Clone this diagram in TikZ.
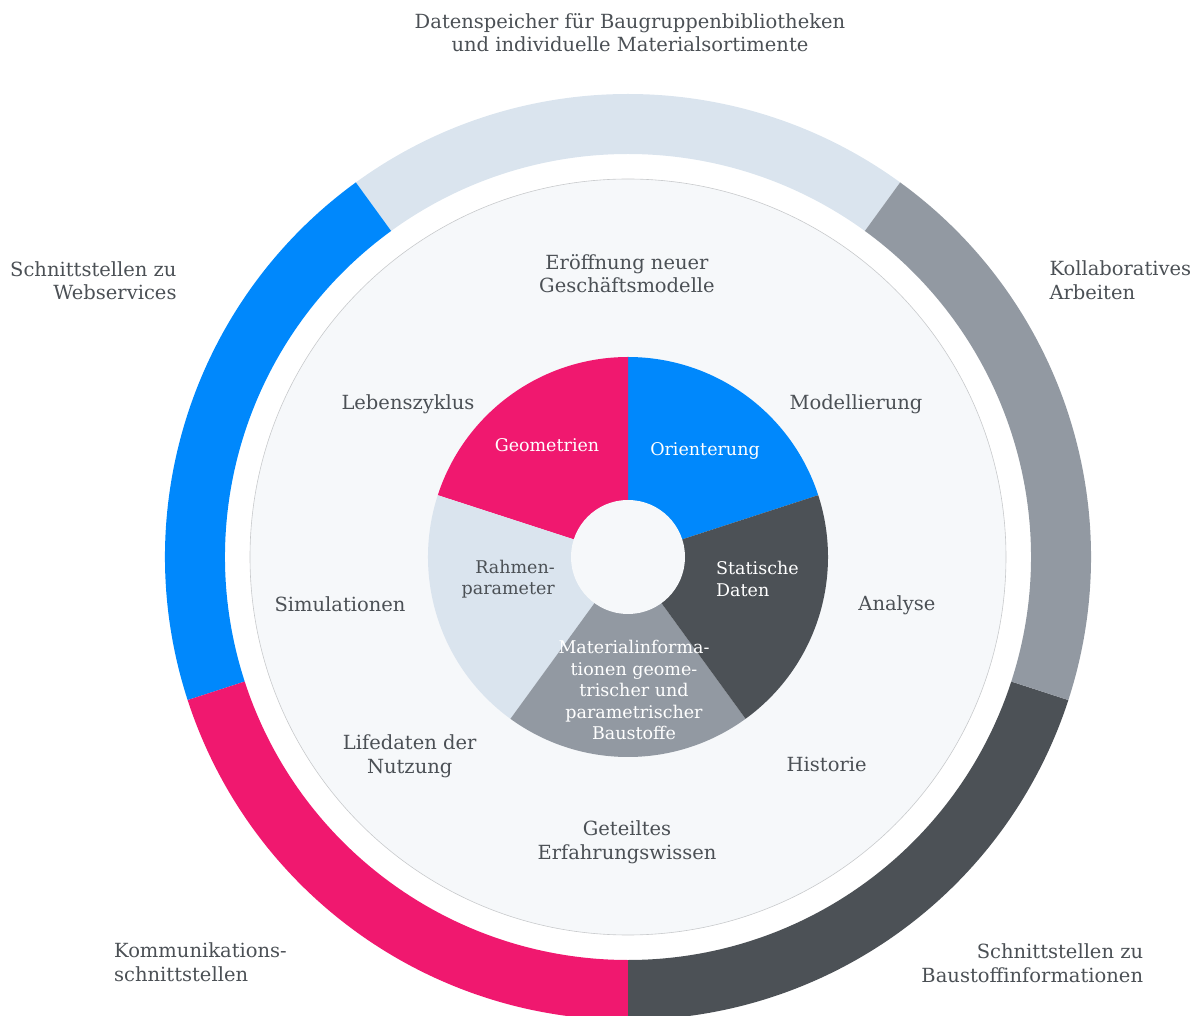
\documentclass[tikz,border=0pt]{standalone}
\usepackage{fontspec}
\setmainfont{DejaVu Serif}
\definecolor{txtgray}{HTML}{4B5055}
\definecolor{ringlight}{HTML}{DAE4EE}
\definecolor{ringgray}{HTML}{9299A2}
\definecolor{ringdark}{HTML}{4C5156}
\definecolor{ringpink}{HTML}{F0186F}
\definecolor{ringblue}{HTML}{0088FC}
\definecolor{faceback}{HTML}{F6F8FA}
\definecolor{faceline}{HTML}{C8CACC}
\tikzset{
  lbl/.style={text=txtgray, inner sep=0pt, font=\fontsize{19.5}{23.5}\selectfont},
  pielbl/.style={inner sep=0pt, font=\fontsize{17.5}{21.5}\selectfont},
}
\begin{document}
\begin{tikzpicture}[x=1pt,y=1pt]
\useasboundingbox (-628,-459) rectangle (568,557);
\clip (-628,-459) rectangle (568,557);
% outer ring
\fill[ringlight] (54:463) arc (54:126:463) -- (126:403) arc (126:54:403) -- cycle;
\fill[ringblue] (126:463) arc (126:198:463) -- (198:403) arc (198:126:403) -- cycle;
\fill[ringpink] (198:463) arc (198:270:463) -- (270:403) arc (270:198:403) -- cycle;
\fill[ringdark] (270:463) arc (270:342:463) -- (342:403) arc (342:270:403) -- cycle;
\fill[ringgray] (-18:463) arc (-18:54:463) -- (54:403) arc (54:-18:403) -- cycle;
% inner face
\draw[fill=faceback, draw=faceline, line width=0.6pt] (0,0) circle (378);
% pie
\fill[ringblue] (0,0) -- (18:200) arc (18:90:200) -- cycle;
\fill[ringpink] (0,0) -- (90:200) arc (90:162:200) -- cycle;
\fill[ringlight] (0,0) -- (162:200) arc (162:234:200) -- cycle;
\fill[ringgray] (0,0) -- (234:200) arc (234:306:200) -- cycle;
\fill[ringdark] (0,0) -- (306:200) arc (306:378:200) -- cycle;
\fill[faceback] (0,0) circle (57);
% outer labels
\node[lbl, align=center] (speicher) at (2,524.3) {Datenspeicher für Baugruppenbibliotheken\\und individuelle Materialsortimente};
\node[lbl, align=right, anchor=east] (web) at (-451.3,276.1) {Schnittstellen zu\\Webservices};
\node[lbl, align=left, anchor=west] (kollab) at (421.3,276.7) {Kollaboratives\\Arbeiten};
\node[lbl, align=left, anchor=west] (komm) at (-514,-405.2) {Kommunikations-\\schnittstellen};
\node[lbl, align=right, anchor=east] (baustoff) at (515.3,-406) {Schnittstellen zu\\Baustoffinformationen};
% face labels
\node[lbl, align=center] (geschaeft) at (-1,283.3) {Eröffnung neuer\\Geschäftsmodelle};
\node[lbl, anchor=base] (leben) at (-220,147) {Lebenszyklus};
\node[lbl, anchor=base] (modell) at (228,147) {Modellierung};
\node[lbl, anchor=base] (simul) at (-288,-54.7) {Simulationen};
\node[lbl, anchor=base] (analyse) at (269,-54) {Analyse};
\node[lbl, align=center] (life) at (-218.3,-199.3) {Lifedaten der\\Nutzung};
\node[lbl, anchor=base] (historie) at (198.7,-214.7) {Historie};
\node[lbl, align=center] (wissen) at (-1,-285.3) {Geteiltes\\Erfahrungswissen};
% pie labels
\node[pielbl, text=white, anchor=base] (geo) at (-81,105.3) {Geometrien};
\node[pielbl, text=white, anchor=base] (orient) at (77,101.7) {Orienterung};
\node[pielbl, text=white, align=left, anchor=west] (statisch) at (88,-22) {Statische\\Daten};
\node[pielbl, text=txtgray, align=right, anchor=east] (rahmen) at (-73,-22) {Rahmen-\\parameter};
\node[pielbl, text=white, align=center] (material) at (6,-133.2) {Materialinforma-\\tionen geome-\\trischer und\\parametrischer\\Baustoffe};
\end{tikzpicture}
\end{document}
